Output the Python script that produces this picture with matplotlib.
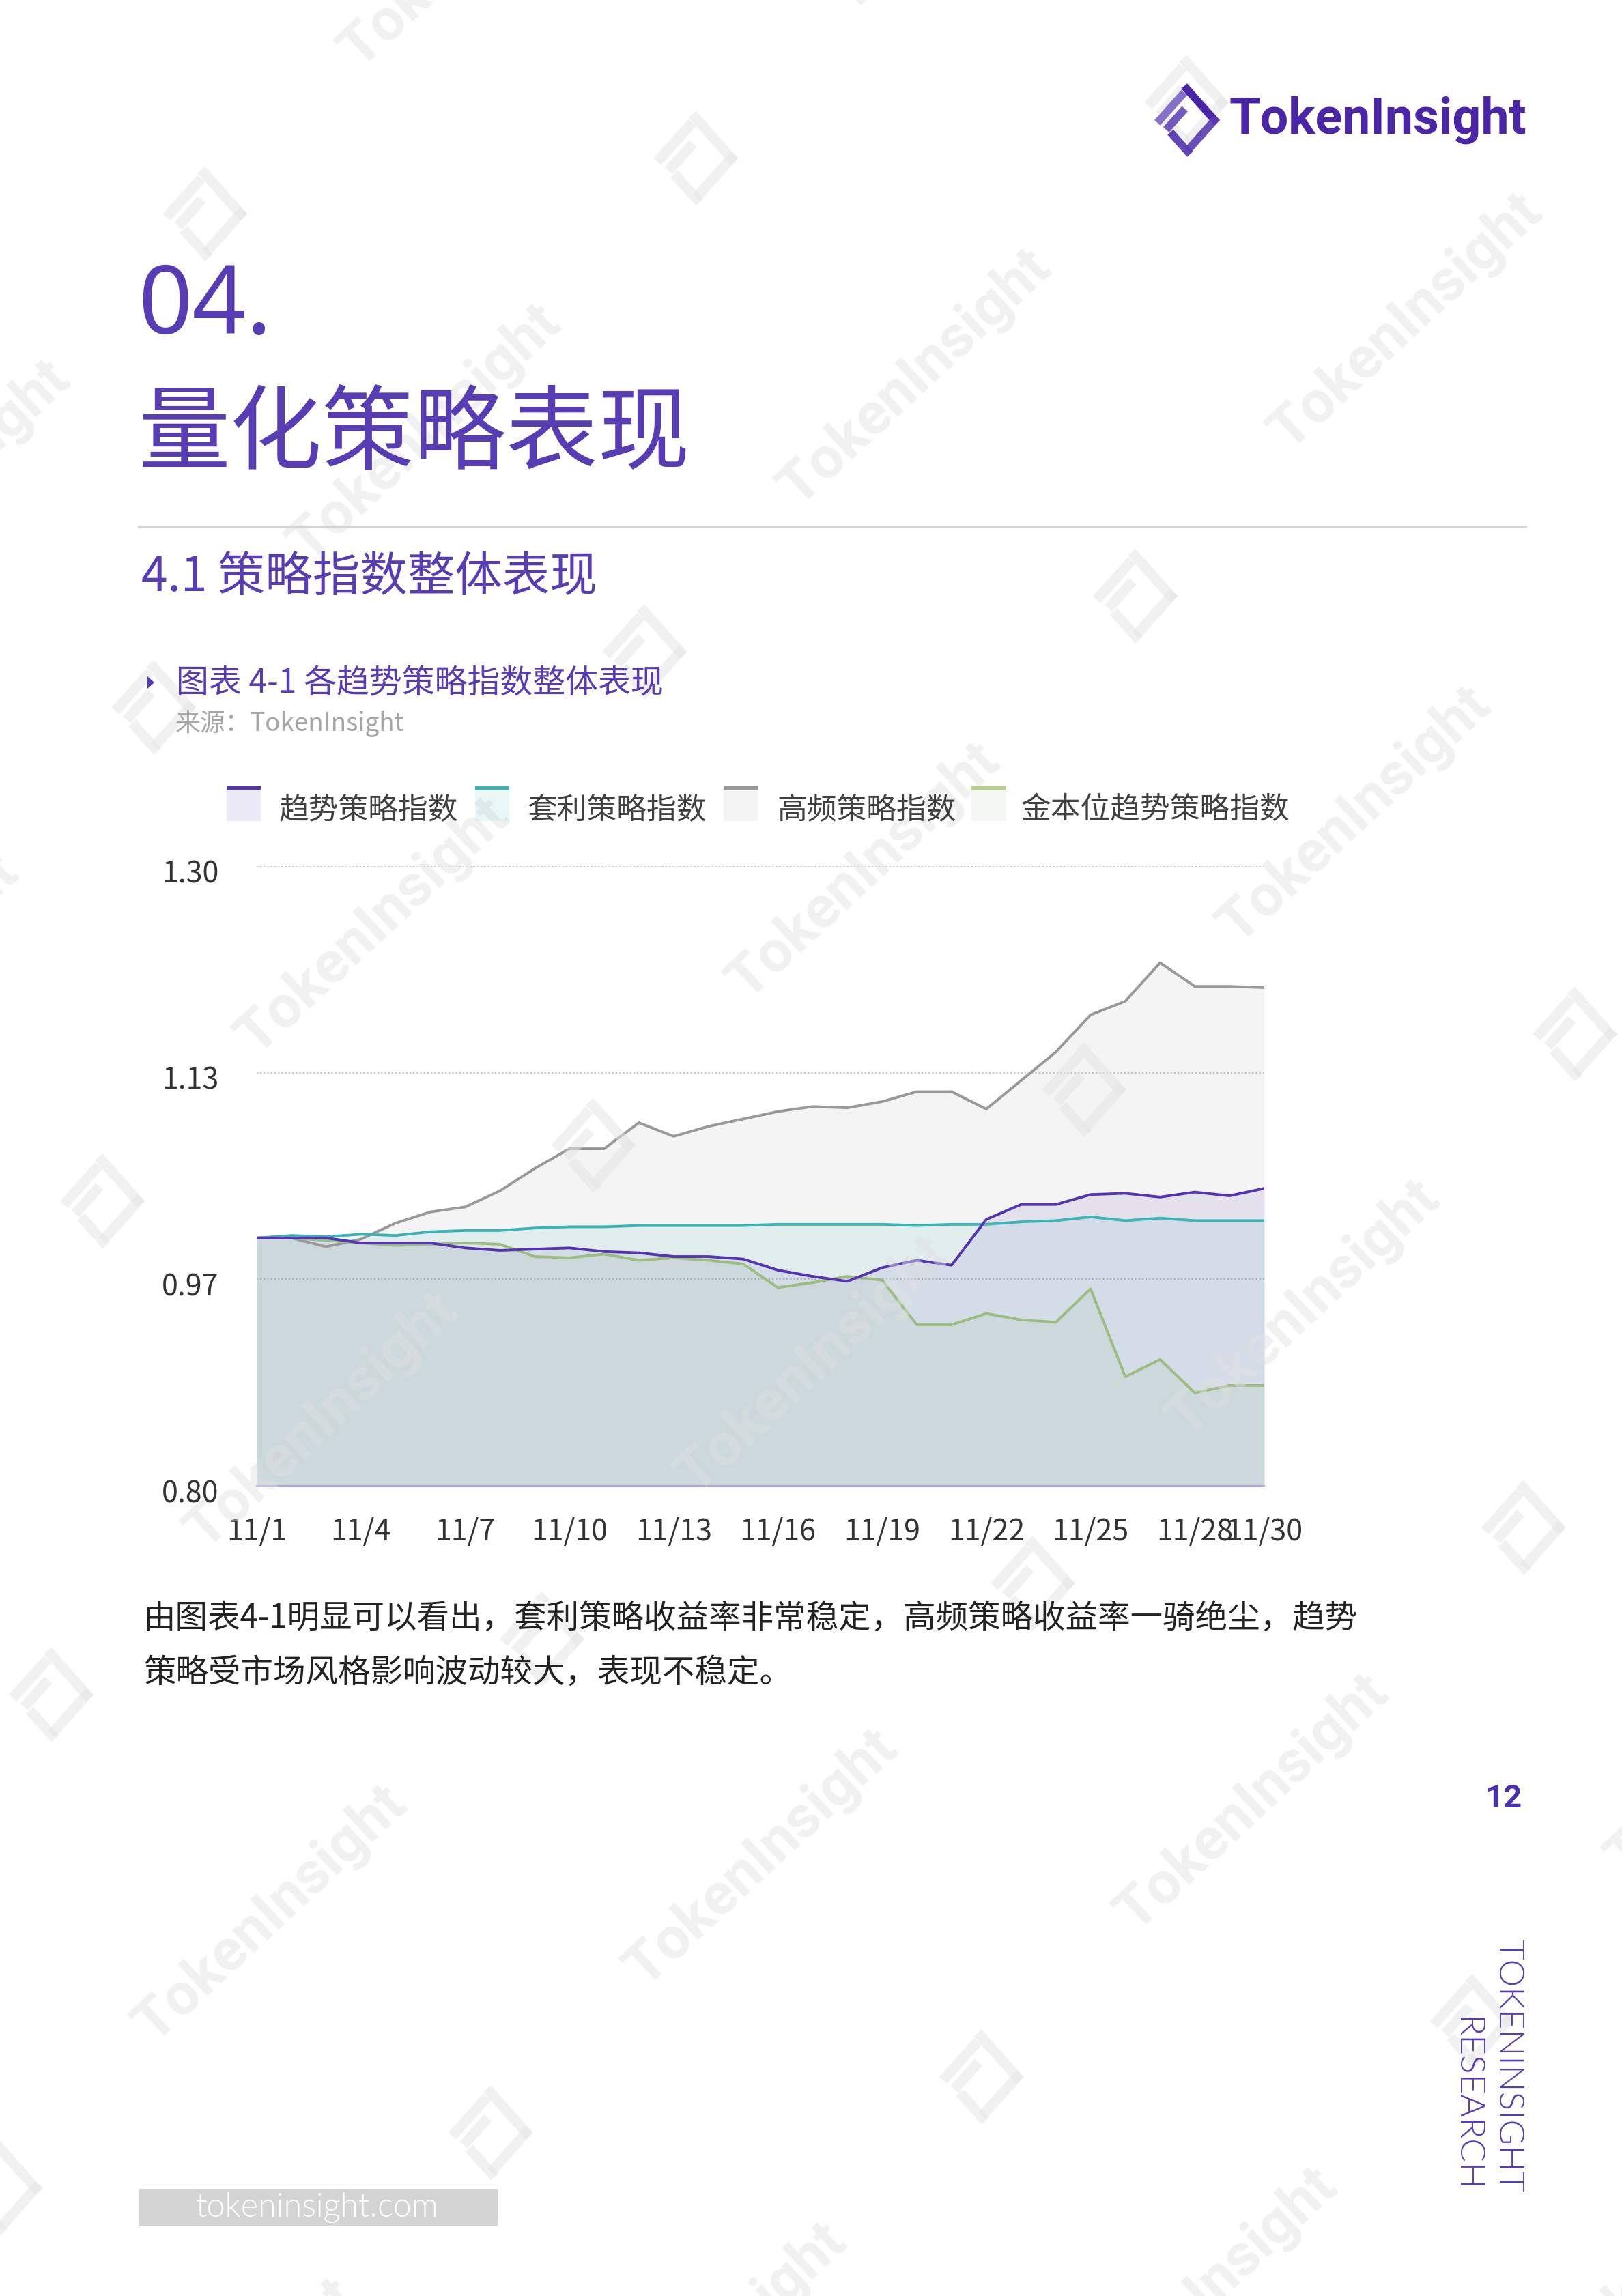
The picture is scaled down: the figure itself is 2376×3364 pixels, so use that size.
import numpy as np
import matplotlib
matplotlib.use("Agg")
import matplotlib.pyplot as plt
import matplotlib.transforms as mtransforms
from matplotlib.patches import Rectangle, Polygon

plt.rcParams['font.family'] = ['Noto Sans CJK SC', 'DejaVu Sans']

W, H = 2376, 3364
DPI = 100

# Datos (índices diarios, base 1.00 el 11/1)
dias = list(range(1, 31))
ticks_dias = [1, 4, 7, 10, 13, 16, 19, 22, 25, 28, 30]
ticks_etiquetas = ["11/1", "11/4", "11/7", "11/10", "11/13", "11/16",
                   "11/19", "11/22", "11/25", "11/28", "11/30"]

tendencia = [1.000, 1.000, 1.000, 0.996, 0.996, 0.996, 0.992, 0.990, 0.991, 0.992,
             0.989, 0.988, 0.985, 0.985, 0.983, 0.974, 0.969, 0.965, 0.976, 0.982,
             0.978, 1.015, 1.027, 1.027, 1.035, 1.036, 1.033, 1.037, 1.034, 1.040]
arbitraje = [1.000, 1.002, 1.001, 1.003, 1.002, 1.005, 1.006, 1.006, 1.008, 1.009,
             1.009, 1.010, 1.010, 1.010, 1.010, 1.011, 1.011, 1.011, 1.011, 1.010,
             1.011, 1.011, 1.013, 1.014, 1.017, 1.014, 1.016, 1.014, 1.014, 1.014]
alta_frec = [1.000, 1.000, 0.993, 0.999, 1.012, 1.021, 1.025, 1.038, 1.056, 1.072,
             1.072, 1.093, 1.082, 1.090, 1.096, 1.102, 1.106, 1.105, 1.110, 1.118,
             1.118, 1.104, 1.127, 1.150, 1.180, 1.191, 1.222, 1.203, 1.203, 1.202]
oro = [1.000, 1.000, 0.998, 0.996, 0.994, 0.995, 0.996, 0.995, 0.985, 0.984,
       0.987, 0.982, 0.984, 0.982, 0.979, 0.960, 0.964, 0.969, 0.966, 0.930,
       0.930, 0.939, 0.934, 0.932, 0.959, 0.888, 0.902, 0.875, 0.881, 0.881]

nombres = ["趋势策略指数", "套利策略指数", "高频策略指数", "金本位趋势策略指数"]
series = [tendencia, arbitraje, alta_frec, oro]
colores = ["#5534b4", "#3bb4b6", "#999999", "#9dbc80"]
colores_leyenda = ["#5534b4", "#3bb4b6", "#999999", "#b8d07f"]

y_min, y_max = 0.80, 1.30

MORADO = "#573cb4"

fig = plt.figure(figsize=(W / DPI, H / DPI), dpi=DPI, facecolor="white")

# ---------- grafico ----------
ax = fig.add_axes([376 / W, 1 - 2177 / H, 1476 / W, 908 / H], zorder=1)
ax.set_facecolor("none")
x = np.arange(len(dias))
for s, c in zip(series, colores):
    ax.fill_between(x, s, y_min, color=c, alpha=0.1, lw=0)
orden = [2, 3, 1, 0]
for i in orden:
    ax.plot(x, series[i], color=colores[i], lw=2.8, zorder=3)

ax.set_xlim(0, len(dias) - 1)
ax.set_ylim(y_min, y_max)
yt = np.linspace(y_min, y_max, 4)
ax.set_yticks(yt)
ax.set_yticklabels([f"{v:.2f}" for v in yt])
ax.set_xticks([dias.index(d) for d in ticks_dias])
ax.set_xticklabels(ticks_etiquetas)
ax.tick_params(axis="both", length=0, labelsize=31, labelcolor="#333333")
ax.tick_params(axis="y", pad=40)
ax.tick_params(axis="x", pad=33)
# las etiquetas del eje y quedan un poco por debajo de la linea
bajar = mtransforms.ScaledTranslation(0, -7 / DPI, fig.dpi_scale_trans)
for et in ax.get_yticklabels():
    et.set_transform(et.get_transform() + bajar)
for lado in ["top", "right", "left"]:
    ax.spines[lado].set_visible(False)
ax.spines["bottom"].set_color("#b3a4e4")
ax.spines["bottom"].set_linewidth(1.6)
for v in yt[1:]:
    ax.axhline(v, color="#c0c0c0", lw=1.5, ls=(0, (1, 1.5)), zorder=0)

# ---------- capa de pagina ----------
top = fig.add_axes([0, 0, 1, 1], zorder=2)
top.set_xlim(0, W)
top.set_ylim(H, 0)
top.axis("off")
top.patch.set_alpha(0)


def icono(axx, cx, cy, a, colores_barras, z=1):
    b = 1.12 * a
    t = 0.24
    T = np.array([0, -b]); R = np.array([a, 0]); B = np.array([0, b]); L = np.array([-a, 0])
    c0 = np.array([cx, cy])

    def barra(P, Q, col, inward):
        d = Q - P
        n = np.array([-d[1], d[0]]) / np.hypot(*d)
        if np.dot(n, -(P + Q) / 2) < 0:
            n = -n
        n = n * t * a * inward
        pts = [P + c0, Q + c0, Q + n + c0, P + n + c0]
        axx.add_patch(Polygon(pts, closed=True, fc=col[0], alpha=col[1], lw=0, zorder=z))

    barra(T, R, colores_barras[0], 1)
    barra(L, L + 0.82 * (T - L), colores_barras[1], 1)
    barra(L + 0.4 * (B - L), B, colores_barras[2], 1)
    barra(B + 0.1 * (R - B), R, colores_barras[3], 1)
    p0 = L + 0.4 * (B - L) + np.array([0.0, -0.02 * a])
    barra(p0 + 0.05 * (T - L), p0 + 0.62 * (T - L), colores_barras[4], -1)


# marcas de agua
A = np.array([625, 258]) * 2.146
u = np.array([335, -38]) * 2.146
v = np.array([-35, 337]) * 2.146
for i in range(-2, 3):
    for j in range(-1, 6):
        p = A + i * u + j * v
        if -300 < p[0] < W + 300 and -300 < p[1] < H + 300:
            top.text(p[0], p[1], "TokenInsight", fontsize=62, family="Roboto",
                     weight="bold", color="#e1e1e1", alpha=0.45, rotation=43,
                     ha="center", va="center", zorder=1)
            q = p - np.array([150, 150]) * 2.146
            gris = [("#e4e4e4", 0.5)] * 5
            icono(top, q[0], q[1], 62, gris, z=1)

# logo
lg = [("#4a25a8", 1.0), ("#7b62c4", 0.9), ("#5a3cb2", 0.95), ("#5a3cb2", 0.9), ("#6a50bc", 0.95)]
icono(top, 1739, 176, 48, lg, z=3)
top.text(1800, 196, "TokenInsight", fontsize=53, family="Roboto", weight="bold",
         color="#4a25a8", ha="left", va="baseline", zorder=3)

# titulos
top.text(202, 489, "04.", fontsize=100, family=["Noto Sans", "DejaVu Sans"],
         color=MORADO, ha="left", va="baseline", weight=300, zorder=3)
top.text(203, 677, "量化策略表现", fontsize=97, color=MORADO, ha="left",
         va="baseline", weight=300, zorder=3)
top.plot([204, 2235], [772, 772], color="#d3d3d3", lw=3, zorder=3)
top.text(207, 866, "4.1 策略指数整体表现", fontsize=50, color=MORADO, ha="left",
         va="baseline", zorder=3)

top.add_patch(Polygon([[216, 991], [216, 1009], [226, 1000]], closed=True,
                      fc=MORADO, lw=0, zorder=3))
top.text(258, 1015, "图表 4-1 各趋势策略指数整体表现", fontsize=34.5, color=MORADO,
         ha="left", va="baseline", zorder=3)
top.text(257, 1071, "来源：TokenInsight", fontsize=26.5, color="#a6a6a6",
         ha="left", va="baseline", zorder=3)

# leyenda
caja_x = [332, 696, 1060, 1423]
texto_x = [409, 772, 1138, 1496]
for nombre, c, cl, bx, tx in zip(nombres, colores, colores_leyenda, caja_x, texto_x):
    top.add_patch(Rectangle((bx, 1152), 50, 51, fc=c, alpha=0.1, lw=0, zorder=3))
    top.add_patch(Rectangle((bx, 1152), 50, 5, fc=cl, lw=0, zorder=3))
    top.text(tx, 1199, nombre, fontsize=31.5, color="#404040", ha="left",
             va="baseline", zorder=3)

# texto
top.text(210, 2385, "由图表4-1明显可以看出，套利策略收益率非常稳定，高频策略收益率一骑绝尘，趋势",
         fontsize=34.2, color="#222222", ha="left", va="baseline", zorder=3)
top.text(210, 2465, "策略受市场风格影响波动较大，表现不稳定。",
         fontsize=34.2, color="#222222", ha="left", va="baseline", zorder=3)

# pie de pagina
top.text(2229, 2648, "12", fontsize=34, family="Roboto", weight="bold",
         color="#4a2fae", ha="right", va="baseline", zorder=3)
top.text(2209, 3212, "TOKENINSIGHT", fontsize=37, family="Lato", weight=300,
         color=MORADO, rotation=270, ha="center", va="bottom", zorder=3)
top.text(2148, 3212, "RESEARCH", fontsize=37, family="Lato", weight=300,
         color=MORADO, rotation=270, ha="center", va="bottom", zorder=3)
top.add_patch(Rectangle((204, 3207), 525, 55, fc="#d4d4d4", lw=0, zorder=3))
top.text(465, 3248, "tokeninsight.com", fontsize=35, family="Lato", weight=300,
         color="white", ha="center", va="baseline", zorder=4)

fig.savefig("out.png", dpi=DPI, facecolor="white")
